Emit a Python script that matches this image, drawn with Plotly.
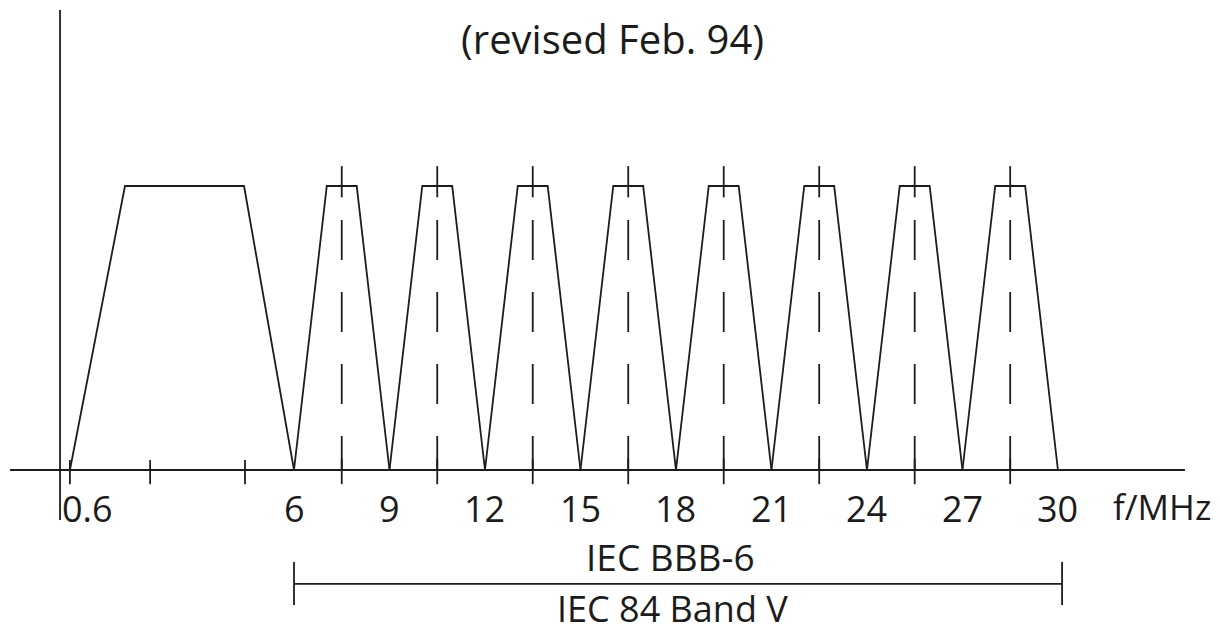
import plotly.graph_objects as go

# ---- data (x in MHz for the linear 6–30 MHz part; the 0.6–6 MHz part is drawn compressed) ----
band_edges = [6, 9, 12, 15, 18, 21, 24, 27, 30]
channel_centers = [7.5, 10.5, 13.5, 16.5, 19.5, 22.5, 25.5, 28.5]
channel_top_halfwidth = 0.47
channel_level = 1.0

low_band_x = [-1.04, 0.69, 4.43, 6.0]
low_band_y = [0, 1.0, 1.0, 0]
low_ticks = [-1.04, 1.48, 4.46]

tick_labels = ["0.6", "6", "9", "12", "15", "18", "21", "24", "27", "30"]
tick_label_pos = [-0.5, 6, 9, 12, 15, 18, 21, 24, 27, 30]
axis_unit = "f/MHz"

title_text = "(revised Feb. 94)"
bracket_from, bracket_to = 6, 30.13
bracket_label_top = "IEC BBB-6"
bracket_label_bottom = "IEC 84 Band V"

# ---- figure ----
INK = "#1c1c1c"
FONT = "Open Sans"
LW = 1.8

fig = go.Figure()

def add_line(xs, ys, dash="solid", width=LW):
    fig.add_trace(go.Scatter(x=xs, y=ys, mode="lines", hoverinfo="skip",
                             line=dict(color=INK, width=width, dash=dash),
                             showlegend=False))

# axes of the diagram
add_line([-2.92, 33.99], [0, 0])
add_line([-1.35, -1.35], [1.62, -0.176])

# low band trapezoid
add_line(low_band_x, low_band_y)

# channel trapezoids
for lo, hi, c in zip(band_edges[:-1], band_edges[1:], channel_centers):
    add_line([lo, c - channel_top_halfwidth, c + channel_top_halfwidth, hi],
             [0, channel_level, channel_level, 0])
    # marker tick above the top
    add_line([c, c], [channel_level + 0.07, channel_level - 0.04])
    # dashed centre line
    add_line([c, c], [0.88, 0.0], dash="40px,32px")
    # tick through the axis
    add_line([c, c], [0.04, -0.05])

# low band axis ticks
for t in low_ticks:
    add_line([t, t], [0.035, -0.05])

# bracket
add_line([bracket_from, bracket_to], [-0.401, -0.401])
add_line([bracket_from, bracket_from], [-0.324, -0.475])
add_line([bracket_to, bracket_to], [-0.324, -0.475])

annotations = []
for lab, pos in zip(tick_labels, tick_label_pos):
    annotations.append(dict(x=pos, y=-0.137, text=lab, showarrow=False,
                            xanchor="center", yanchor="middle",
                            font=dict(family=FONT, size=36, color=INK)))
annotations.append(dict(x=33.27, y=-0.13, text=axis_unit, showarrow=False,
                        xanchor="center", yanchor="middle",
                        font=dict(family=FONT, size=35, color=INK)))
annotations.append(dict(x=16.02, y=1.518, text=title_text, showarrow=False,
                        xanchor="center", yanchor="middle",
                        font=dict(family=FONT, size=40, color=INK)))
annotations.append(dict(x=17.84, y=-0.306, text=bracket_label_top, showarrow=False,
                        xanchor="center", yanchor="middle", borderpad=0,
                        font=dict(family=FONT, size=37, color=INK)))
annotations.append(dict(x=17.88, y=-0.486, text=bracket_label_bottom, showarrow=False,
                        xanchor="center", yanchor="middle", borderpad=0,
                        font=dict(family=FONT, size=36, color=INK)))

# the page body has an 8 px margin, so the figure is 16 px smaller than the window
fig.update_layout(
    width=1204, height=625,
    margin=dict(l=0, r=0, t=0, b=0),
    paper_bgcolor="white", plot_bgcolor="white",
    xaxis=dict(range=[-2.985, 34.84], visible=False, fixedrange=True),
    yaxis=dict(range=[-0.574, 1.6268], visible=False, fixedrange=True),
    annotations=annotations,
)

fig.write_html("out.html")
